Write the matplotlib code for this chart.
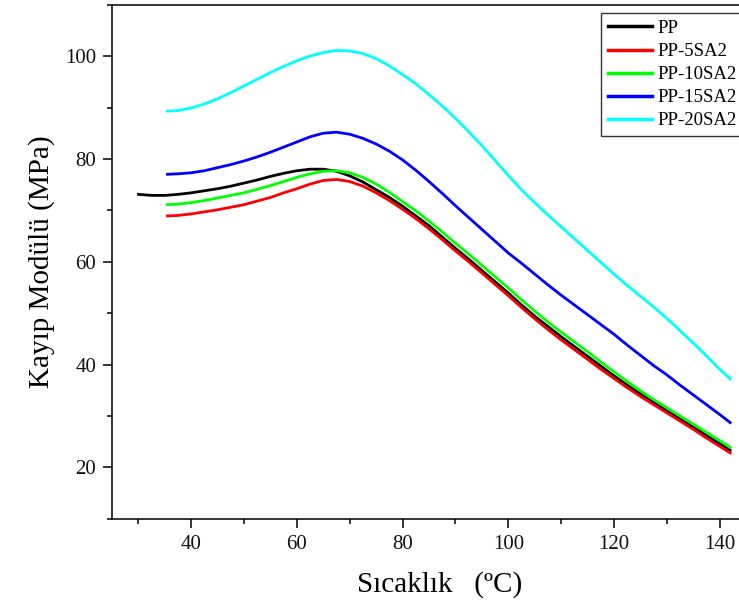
import numpy as np, matplotlib
matplotlib.use("Agg")
import matplotlib.pyplot as plt
from matplotlib.ticker import MultipleLocator

plt.rcParams["font.family"] = ["Liberation Serif", "DejaVu Serif"]

# PP
T_pp = [30, 32.5, 35, 37.5, 40, 42.5, 45, 47.5, 50, 52.5, 55, 57.5, 60, 62.5, 65,
        67.5, 70, 72.5, 75, 77.5, 80, 82.5, 85, 87.5, 90, 92.5, 95, 97.5, 100,
        102.5, 105, 107.5, 110, 112.5, 115, 117.5, 120, 122.5, 125, 127.5, 130,
        132.5, 135, 137.5, 140, 142]
V_pp = [73.1, 72.9, 72.9, 73.1, 73.4, 73.8, 74.2, 74.7, 75.3, 75.9, 76.6, 77.2,
        77.7, 78.0, 78.0, 77.6, 76.7, 75.5, 74.0, 72.5, 70.8, 68.9, 67.0, 64.8,
        62.6, 60.5, 58.3, 56.1, 53.9, 51.6, 49.4, 47.4, 45.4, 43.5, 41.6, 39.7,
        37.8, 36.0, 34.3, 32.6, 31.0, 29.4, 27.8, 26.2, 24.6, 23.3]

# shared temperature grid of the filled samples
T_sa = [35.5, 37.5, 40, 42.5, 45, 47.5, 50, 52.5, 55, 57.5, 60, 62.5, 65, 67.5,
        70, 72.5, 75, 77.5, 80, 82.5, 85, 87.5, 90, 92.5, 95, 97.5, 100, 102.5,
        105, 107.5, 110, 112.5, 115, 117.5, 120, 122.5, 125, 127.5, 130, 132.5,
        135, 137.5, 140, 142]
# PP-5SA2
V_5 = [68.9, 69.0, 69.3, 69.7, 70.1, 70.6, 71.1, 71.8, 72.5, 73.4, 74.2, 75.1,
       75.8, 76.0, 75.6, 74.7, 73.4, 71.9, 70.2, 68.4, 66.4, 64.3, 62.1, 60.0,
       57.8, 55.6, 53.4, 51.1, 48.9, 46.8, 44.8, 42.9, 41.0, 39.1, 37.3, 35.5,
       33.8, 32.2, 30.6, 29.0, 27.4, 25.7, 24.1, 22.8]
# PP-10SA2
V_10 = [71.1, 71.2, 71.5, 71.9, 72.4, 72.9, 73.4, 74.1, 74.8, 75.6, 76.4, 77.1,
        77.6, 77.7, 77.3, 76.4, 75.1, 73.5, 71.7, 69.9, 67.9, 65.8, 63.6, 61.5,
        59.3, 57.1, 54.9, 52.6, 50.4, 48.3, 46.3, 44.4, 42.5, 40.5, 38.6, 36.7,
        34.9, 33.2, 31.6, 30.0, 28.4, 26.8, 25.2, 23.9]
# PP-15SA2
V_15 = [77.0, 77.1, 77.3, 77.7, 78.3, 78.9, 79.6, 80.4, 81.3, 82.3, 83.3, 84.3,
        85.0, 85.2, 84.8, 84.0, 82.9, 81.5, 79.8, 77.8, 75.6, 73.3, 70.9, 68.6,
        66.3, 64.0, 61.7, 59.7, 57.6, 55.5, 53.5, 51.6, 49.7, 47.8, 45.9, 43.8,
        41.8, 39.8, 38.0, 36.0, 34.1, 32.2, 30.3, 28.7]
# PP-20SA2
V_20 = [89.3, 89.4, 89.9, 90.7, 91.7, 92.9, 94.2, 95.5, 96.8, 98.0, 99.1, 100.0,
        100.7, 101.1, 101.0, 100.5, 99.5, 98.1, 96.4, 94.6, 92.5, 90.3, 87.9,
        85.3, 82.6, 79.7, 76.8, 74.0, 71.5, 69.1, 66.8, 64.5, 62.2, 59.9, 57.6,
        55.4, 53.3, 51.2, 49.0, 46.6, 44.2, 41.7, 39.1, 37.2]

series = [("PP", T_pp, V_pp, "#000000"),
          ("PP-5SA2", T_sa, V_5, "#ff0000"),
          ("PP-10SA2", T_sa, V_10, "#00ff00"),
          ("PP-15SA2", T_sa, V_15, "#0000ff"),
          ("PP-20SA2", T_sa, V_20, "#00ffff")]

fig = plt.figure(figsize=(7.39, 6.07), dpi=100)
ax = fig.add_axes([112/739, (607-518.7)/607, (746-112)/739, 514/607])
for lab, t, v, c in series:
    ax.plot(t, v, color=c, lw=2.0, label=lab, solid_joinstyle="round")

ax.set_xlim(25, 145); ax.set_ylim(10, 110)
ax.xaxis.set_major_locator(MultipleLocator(20)); ax.xaxis.set_minor_locator(MultipleLocator(10))
ax.yaxis.set_major_locator(MultipleLocator(20)); ax.yaxis.set_minor_locator(MultipleLocator(10))
ax.set_xticks([40, 60, 80, 100, 120, 140])
ax.tick_params(which="major", direction="out", length=6.5, width=1.1, labelsize=15, pad=5,
               colors="#000000", labelcolor="#111111")
ax.tick_params(which="minor", direction="out", length=3.8, width=1.1)
for s in ax.spines.values(): s.set_linewidth(1.1)
ax.spines["right"].set_visible(False)

ax.set_ylabel("Kayıp Modülü (MPa)", fontsize=21, labelpad=7)
fig.text(440/739, 1-585/607, "Sıcaklık   (ºC)", fontsize=21, ha="center", va="center")

leg = ax.legend(loc="upper left", bbox_to_anchor=(601/739, 1-13.3/607),
                bbox_transform=fig.transFigure, fontsize=13.5, frameon=True,
                fancybox=False, edgecolor="#000000", borderaxespad=0,
                handlelength=2.35, handletextpad=0.3, labelspacing=0.32,
                borderpad=0.35)
leg.get_frame().set_linewidth(1.0)
for h in leg.get_lines(): h.set_linewidth(2.5)

fig.savefig("out.png", dpi=100)
